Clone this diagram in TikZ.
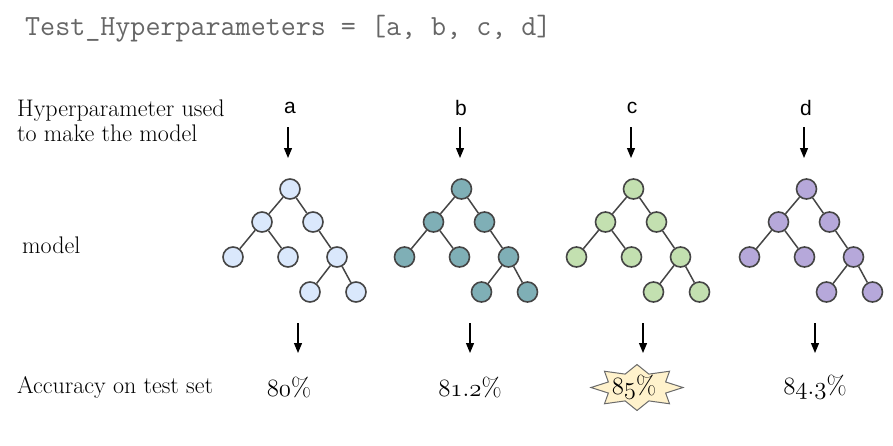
\documentclass[tikz,border=0pt]{standalone}
\usepackage{fontspec}
\newfontfamily\labfont{Liberation Sans}
\usetikzlibrary{arrows.meta}
\definecolor{edgec}{HTML}{454545}
\definecolor{cA}{HTML}{DAE8FC}
\definecolor{cB}{HTML}{7FAFB6}
\definecolor{cC}{HTML}{C3E0B0}
\definecolor{cD}{HTML}{B6A8DA}
\definecolor{starfill}{HTML}{FFF2CC}
\definecolor{codegray}{HTML}{666666}
\newcommand\mktree[3]{%
  \begin{scope}[shift={(#2,189)}]
    \node[tn,fill=#3] (#1r)   at (0,0) {};
    \node[tn,fill=#3] (#1l)   at (-28,33) {};
    \node[tn,fill=#3] (#1rr)  at (23,33) {};
    \node[tn,fill=#3] (#1ll)  at (-57,68) {};
    \node[tn,fill=#3] (#1lr)  at (-2,68) {};
    \node[tn,fill=#3] (#1rc)  at (47,68) {};
    \node[tn,fill=#3] (#1rcl) at (20,103) {};
    \node[tn,fill=#3] (#1rcr) at (66,103) {};
    \draw[tedge] (#1r) -- (#1l);
    \draw[tedge] (#1r) -- (#1rr);
    \draw[tedge] (#1l) -- (#1ll);
    \draw[tedge] (#1l) -- (#1lr);
    \draw[tedge] (#1rr) -- (#1rc);
    \draw[tedge] (#1rc) -- (#1rcl);
    \draw[tedge] (#1rc) -- (#1rcr);
  \end{scope}}
\begin{document}
\begin{tikzpicture}[x=1pt,y=-1pt,
  tn/.style={circle,draw=edgec,line width=1.6pt,minimum size=20pt,inner sep=0pt},
  tedge/.style={draw=edgec,line width=1.5pt},
  arr/.style={-{Triangle[length=10pt,width=8pt]},line width=1.2pt},
  lbl/.style={font=\fontsize{24}{25}\selectfont,align=left,inner sep=0pt},
  hp/.style={font=\labfont\fontsize{21}{22}\selectfont,inner sep=0pt},
  acc/.style={font=\fontsize{26}{28}\selectfont,inner sep=0pt},
  code/.style={font=\ttfamily\fontsize{29.2}{30}\selectfont,text=codegray,inner sep=0pt}]
\useasboundingbox (0,0) rectangle (893,445);

\node[code,anchor=west] (codeline) at (25,29) {Test\_Hyperparameters = [a, b, c, d]};

\node[lbl,anchor=west] (hyplbl) at (17,121) {Hyperparameter used\\to make the model};
\node[lbl,anchor=west] (modellbl) at (22,245) {model};
\node[lbl,anchor=west] (acclbl) at (17,387) {Accuracy on test set};

\node[hp] (ha) at (290,108) {a};
\node[hp] (hb) at (461,108) {b};
\node[hp] (hc) at (632,108) {c};
\node[hp] (hd) at (806,108) {d};

\coordinate (ta1) at (288,127); \coordinate (ta2) at (288,158);
\coordinate (tb1) at (460,127); \coordinate (tb2) at (460,158);
\coordinate (tc1) at (631,127); \coordinate (tc2) at (631,158);
\coordinate (td1) at (804,127); \coordinate (td2) at (804,158);
\draw[arr] (ta1) -- (ta2);
\draw[arr] (tb1) -- (tb2);
\draw[arr] (tc1) -- (tc2);
\draw[arr] (td1) -- (td2);

\mktree{A}{290}{cA}
\mktree{B}{461.5}{cB}
\mktree{C}{633.5}{cC}
\mktree{D}{806.5}{cD}

\coordinate (ba1) at (298,323); \coordinate (ba2) at (298,353);
\coordinate (bb1) at (470,323); \coordinate (bb2) at (470,353);
\coordinate (bc1) at (643,323); \coordinate (bc2) at (643,353);
\coordinate (bd1) at (815,323); \coordinate (bd2) at (815,353);
\draw[arr] (ba1) -- (ba2);
\draw[arr] (bb1) -- (bb2);
\draw[arr] (bc1) -- (bc2);
\draw[arr] (bd1) -- (bd2);

\begin{scope}[shift={(637,387.5)}]
\draw[draw=edgec!80,fill=starfill,line width=1pt]
  (0:46 and 23) -- (22.5:31 and 14.5) -- (45:46 and 23) -- (67.5:31 and 14.5) --
  (90:46 and 23) -- (112.5:31 and 14.5) -- (135:46 and 23) -- (157.5:31 and 14.5) --
  (180:46 and 23) -- (202.5:31 and 14.5) -- (225:46 and 23) -- (247.5:31 and 14.5) --
  (270:46 and 23) -- (292.5:31 and 14.5) -- (315:46 and 23) -- (337.5:31 and 14.5) -- cycle;
\end{scope}

\node[acc] (va) at (289,387) {$\mathnormal{80}$\%};
\node[acc] (vb) at (470,387) {$\mathnormal{81.2}$\%};
\node[acc] (vc) at (634,387) {$\mathnormal{85}$\%};
\node[acc] (vd) at (815,387) {$\mathnormal{84.3}$\%};
\end{tikzpicture}
\end{document}
